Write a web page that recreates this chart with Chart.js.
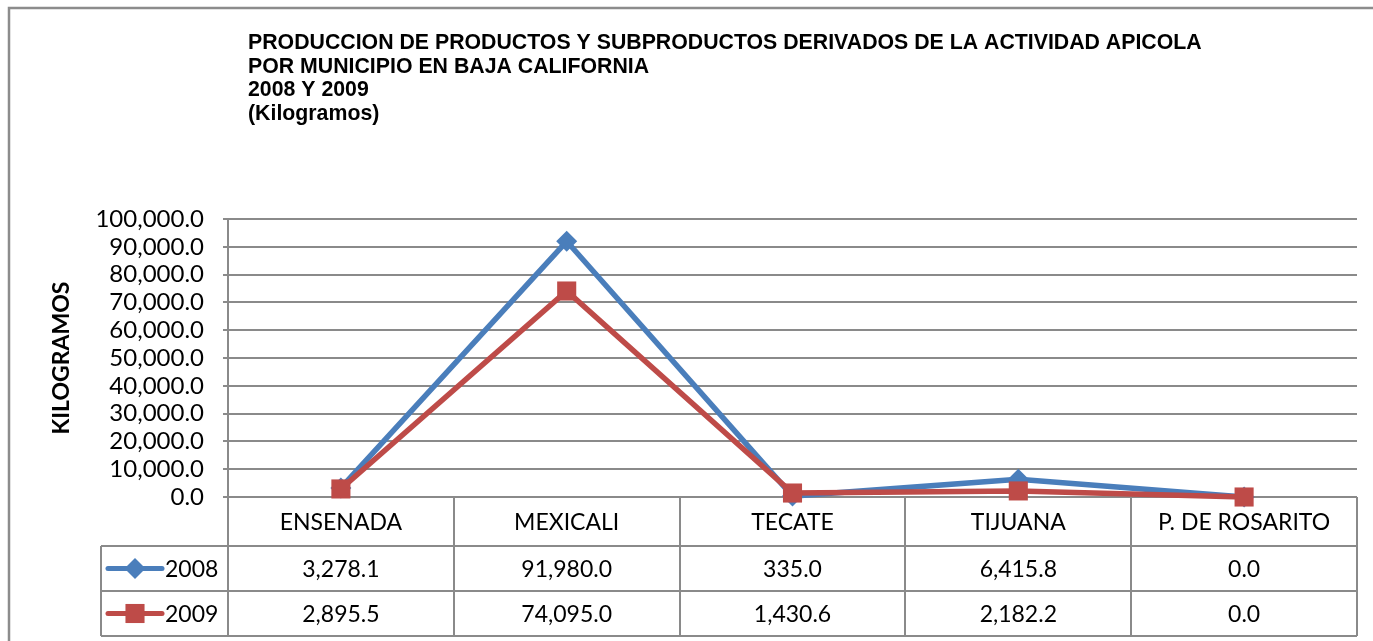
<!DOCTYPE html>
<html>
<head>
<meta charset="utf-8">
<script src="https://cdn.jsdelivr.net/npm/chart.js@4.4.1/dist/chart.umd.min.js"></script>
<style>
  body { margin: 0; background: #fff; }
</style>
</head>
<body>
<canvas id="apiChart" width="1373" height="641"></canvas>

<script type="text/JavaScript">

//------------------------------------------------------------------------------------------
// Data
//------------------------------------------------------------------------------------------

var titleLines = [
    "PRODUCCION DE PRODUCTOS Y SUBPRODUCTOS DERIVADOS DE LA ACTIVIDAD APICOLA",
    "POR MUNICIPIO EN BAJA CALIFORNIA",
    "2008 Y 2009",
    "(Kilogramos)"
];
var municipios = ["ENSENADA", "MEXICALI", "TECATE", "TIJUANA", "P. DE ROSARITO"];
var years = ["2008", "2009"];
var values2008 = [3278.1, 91980.0, 335.0, 6415.8, 0.0];
var values2009 = [2895.5, 74095.0, 1430.6, 2182.2, 0.0];
var yTicks = [0, 10000, 20000, 30000, 40000, 50000, 60000, 70000, 80000, 90000, 100000];
var yTitle = "KILOGRAMOS";

var COLORS = ["#4A7EBB", "#BE4B48"];
var MARKERS = ["rectRot", "rect"];
var RADII = [10.5, 13.5];
var GRID = "#8a8a8a";
var FONT = "Lato, 'Open Sans', sans-serif";

function fmt(v) {
    return v.toLocaleString("en-US", {minimumFractionDigits: 1, maximumFractionDigits: 1});
}

//------------------------------------------------------------------------------------------
// title, frame and data table drawn on the canvas
//------------------------------------------------------------------------------------------
var tablePlugin = {
    id: "dataTable",
    beforeDraw: function(chart) {
        var ctx = chart.ctx;
        ctx.save();
        ctx.fillStyle = "#fff";
        ctx.fillRect(0, 0, chart.width, chart.height);
        // outer frame
        ctx.strokeStyle = "#8c8c8c";
        ctx.lineWidth = 2.5;
        ctx.strokeRect(9, 8, chart.width + 20, chart.height + 20);
        // title
        ctx.fillStyle = "#000";
        ctx.font = "bold 21.3px 'Liberation Sans', Arial, sans-serif";
        ctx.textBaseline = "alphabetic";
        ctx.textAlign = "left";
        for (var i = 0; i < titleLines.length; i++) {
            ctx.fillText(titleLines[i], 248, 49 + i * 23.5);
        }
        ctx.restore();
    },
    beforeDatasetsDraw: function(chart) {
        // table grid goes under the markers
        var ctx = chart.ctx;
        var area = chart.chartArea;
        var n = municipios.length;
        var colW = (area.right - area.left) / n;
        var top = area.bottom;
        var rows = [top, top + 49, top + 94, top + 139];
        var legLeft = 101;

        ctx.save();
        ctx.strokeStyle = GRID;
        ctx.lineWidth = 2;
        ctx.beginPath();
        ctx.moveTo(area.left, rows[0]); ctx.lineTo(area.right, rows[0]);
        for (var r = 1; r < rows.length; r++) {
            ctx.moveTo(legLeft, rows[r]); ctx.lineTo(area.right, rows[r]);
        }
        for (var c = 0; c <= n; c++) {
            var x = Math.round(area.left + c * colW);
            ctx.moveTo(x, rows[0]); ctx.lineTo(x, rows[3]);
        }
        ctx.moveTo(legLeft, rows[1]); ctx.lineTo(legLeft, rows[3]);
        ctx.stroke();
        ctx.restore();
    },
    afterDraw: function(chart) {
        var ctx = chart.ctx;
        var area = chart.chartArea;
        var xs = chart.scales.x;
        var n = municipios.length;
        var top = area.bottom;
        var rows = [top, top + 49, top + 94, top + 139];

        ctx.save();
        // texts
        ctx.fillStyle = "#000";
        ctx.font = "23px " + FONT;
        ctx.textAlign = "center";
        ctx.textBaseline = "middle";
        var series = [values2008, values2009];
        for (var i = 0; i < n; i++) {
            var cx = xs.getPixelForValue(i);
            ctx.fillText(municipios[i], cx, (rows[0] + rows[1]) / 2 + 1);
            for (var s = 0; s < series.length; s++) {
                ctx.fillText(fmt(series[s][i]), cx, (rows[s + 1] + rows[s + 2]) / 2 + 1);
            }
        }

        // legend keys
        for (var s = 0; s < years.length; s++) {
            var cy = (rows[s + 1] + rows[s + 2]) / 2;
            ctx.strokeStyle = COLORS[s];
            ctx.lineWidth = 5;
            ctx.lineCap = "round";
            ctx.beginPath();
            ctx.moveTo(108, cy); ctx.lineTo(162, cy);
            ctx.stroke();
            ctx.fillStyle = COLORS[s];
            Chart.helpers.drawPoint(ctx, {pointStyle: MARKERS[s], radius: RADII[s], borderWidth: 0}, 135, cy);
            ctx.fillStyle = "#000";
            ctx.textAlign = "left";
            ctx.fillText(years[s], 165, cy + 1);
        }
        ctx.restore();
    }
};

//------------------------------------------------------------------------------------------
// chart
//------------------------------------------------------------------------------------------
var datasets = [values2008, values2009].map(function(vals, s) {
    return {
        label: years[s],
        data: vals,
        borderColor: COLORS[s],
        backgroundColor: COLORS[s],
        borderWidth: 5.5,
        pointStyle: MARKERS[s],
        pointRadius: RADII[s],
        pointBorderWidth: 0,
        pointBackgroundColor: COLORS[s],
        tension: 0,
        clip: false,
        order: 2 - s
    };
});

var ctxC = document.getElementById("apiChart").getContext("2d");
var myChart = new Chart(ctxC, {
    type: "line",
    data: { labels: municipios, datasets: datasets },
    plugins: [tablePlugin],
    options: {
        responsive: false,
        animation: false,
        devicePixelRatio: 1,
        layout: { padding: { left: 44, top: 219, right: 16, bottom: 144 } },
        plugins: { legend: { display: false }, tooltip: { enabled: false }, title: { display: false } },
        scales: {
            x: {
                display: false,
                offset: true
            },
            y: {
                min: 0,
                max: 100000,
                afterFit: function(scale) { scale.width = 228 - 44; },
                afterBuildTicks: function(scale) {
                    scale.ticks = yTicks.map(function(v) { return {value: v}; });
                },
                ticks: {
                    color: "#000",
                    padding: 19,
                    autoSkip: false,
                    font: { family: FONT, size: 24 },
                    callback: function(v) { return fmt(v); }
                },
                grid: { color: GRID, lineWidth: 2, tickLength: 5 },
                border: { color: GRID, width: 2 },
                title: {
                    display: true,
                    text: yTitle,
                    color: "#000",
                    font: { family: FONT, size: 23, weight: "bold" }
                }
            }
        }
    }
});

</script>
</body>
</html>
